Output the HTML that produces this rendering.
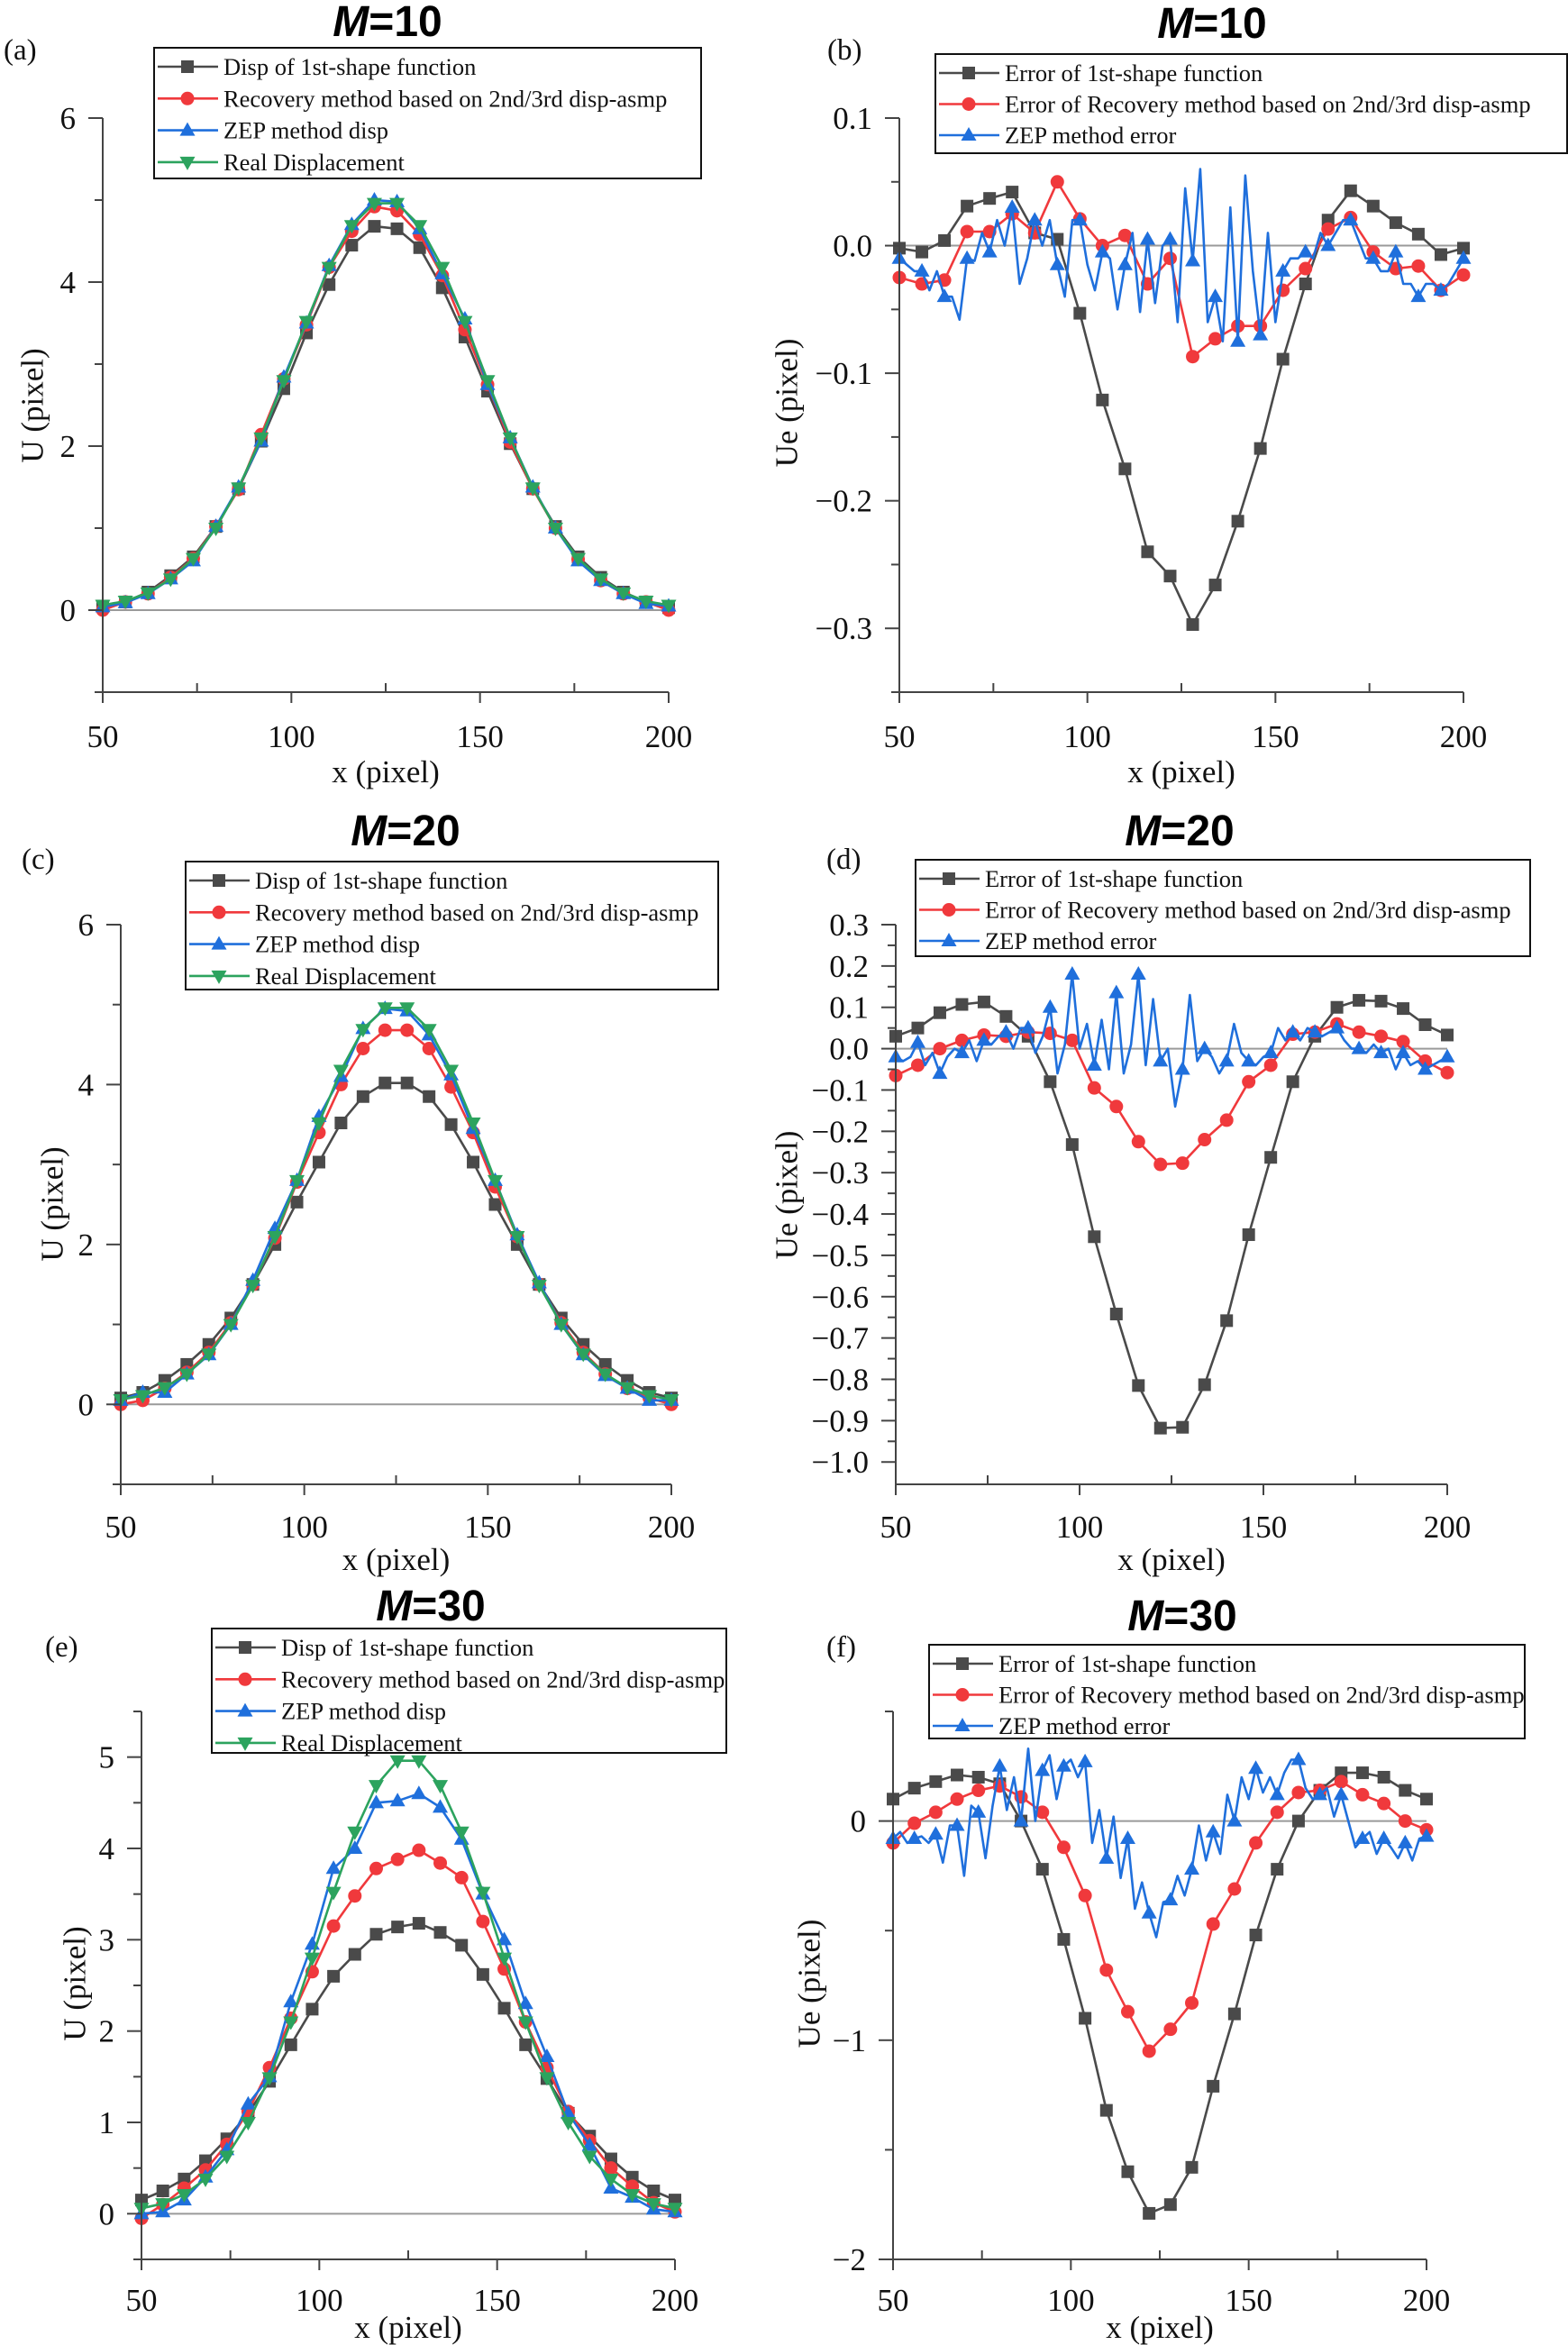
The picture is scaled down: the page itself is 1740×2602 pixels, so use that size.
<!DOCTYPE html>
<html><head><meta charset="utf-8"><style>
html,body{margin:0;padding:0;background:#fff;}
svg{display:block;font-family:"Liberation Serif",serif;}
</style></head>
<body>
<svg id="fig" width="1740" height="2602" viewBox="0 0 1740 2602" xmlns="http://www.w3.org/2000/svg"></svg>
<script>
const xMarkers=[50,56,62,68,74,80,86,92,98,104,110,116,122,128,134,140,146,152,158,164,170,176,182,188,194,200];
const realDisp=[0.06,0.11,0.21,0.38,0.63,1.0,1.49,2.10,2.80,3.52,4.18,4.69,4.96,4.96,4.69,4.18,3.52,2.80,2.10,1.49,1.0,0.63,0.38,0.21,0.11,0.06];
const blackA=[0.05,0.1,0.22,0.42,0.65,1.02,1.48,2.06,2.70,3.38,3.97,4.45,4.68,4.65,4.42,3.93,3.33,2.67,2.03,1.48,1.02,0.65,0.4,0.22,0.1,0.03];
const redA=[0.0,0.1,0.2,0.4,0.63,1.02,1.47,2.14,2.82,3.48,4.18,4.62,4.92,4.87,4.58,4.08,3.42,2.75,2.05,1.48,1.0,0.62,0.36,0.2,0.1,0.0];
const blueA=[0.04,0.09,0.2,0.38,0.6,1.02,1.5,2.06,2.84,3.5,4.2,4.7,5.0,4.98,4.65,4.1,3.55,2.75,2.1,1.5,1.0,0.6,0.36,0.2,0.08,0.05];
const blackC=[0.08,0.15,0.3,0.5,0.75,1.08,1.5,2.0,2.53,3.03,3.52,3.85,4.02,4.02,3.85,3.5,3.03,2.5,2.0,1.5,1.08,0.75,0.5,0.3,0.15,0.08];
const redC=[0.0,0.05,0.2,0.4,0.65,1.02,1.5,2.08,2.78,3.4,4.0,4.45,4.68,4.68,4.45,3.97,3.4,2.72,2.1,1.5,1.02,0.65,0.38,0.2,0.08,0.0];
const blueC=[0.05,0.15,0.15,0.38,0.62,1.0,1.55,2.2,2.8,3.6,4.1,4.7,4.95,4.92,4.62,4.12,3.45,2.8,2.12,1.52,1.0,0.62,0.36,0.2,0.05,0.05];
const blackE=[0.15,0.25,0.38,0.58,0.82,1.1,1.45,1.85,2.24,2.6,2.84,3.06,3.14,3.18,3.08,2.94,2.62,2.25,1.85,1.48,1.1,0.85,0.6,0.4,0.25,0.15];
const redE=[-0.05,0.1,0.28,0.48,0.76,1.12,1.6,2.14,2.65,3.15,3.48,3.78,3.88,3.98,3.84,3.68,3.2,2.68,2.1,1.6,1.12,0.8,0.5,0.3,0.12,0.02];
const blueE=[0,0.02,0.15,0.4,0.7,1.2,1.5,2.32,2.95,3.78,4.0,4.5,4.52,4.6,4.45,4.1,3.5,3.0,2.3,1.72,1.1,0.75,0.28,0.18,0.05,0.02];
const blackB=[-0.002,-0.005,0.004,0.031,0.037,0.042,0.01,0.005,-0.053,-0.121,-0.175,-0.24,-0.259,-0.297,-0.266,-0.216,-0.159,-0.089,-0.03,0.02,0.043,0.031,0.018,0.009,-0.007,-0.002];
const redB=[-0.025,-0.03,-0.027,0.011,0.011,0.025,0.01,0.05,0.021,0.0,0.008,-0.03,-0.01,-0.087,-0.073,-0.063,-0.063,-0.035,-0.018,0.013,0.022,-0.005,-0.018,-0.016,-0.035,-0.023];
const blueB=[-0.01,-0.015,-0.02,-0.02,-0.035,-0.02,-0.04,-0.04,-0.058,-0.01,-0.012,0.01,-0.005,0.02,0.0,0.03,-0.03,-0.01,0.02,0.0,0.02,-0.015,-0.04,0.02,0.02,-0.015,-0.035,-0.005,-0.01,-0.05,-0.015,0.01,-0.052,0.005,-0.045,0.0,0.005,-0.06,0.045,-0.012,0.06,-0.06,-0.04,-0.075,0.03,-0.075,0.055,-0.02,-0.07,0.01,-0.06,-0.02,-0.01,-0.01,-0.005,-0.01,0.01,0.0,0.01,0.02,0.02,0.005,-0.01,-0.01,-0.02,-0.02,-0.005,-0.03,-0.03,-0.04,-0.03,-0.03,-0.035,-0.03,-0.02,-0.01];
const blackD=[0.03,0.05,0.087,0.107,0.113,0.078,0.03,-0.08,-0.232,-0.455,-0.642,-0.815,-0.918,-0.916,-0.813,-0.658,-0.45,-0.263,-0.08,0.03,0.1,0.117,0.115,0.097,0.058,0.033];
const redD=[-0.065,-0.04,0.0,0.02,0.033,0.03,0.04,0.037,0.02,-0.095,-0.14,-0.225,-0.28,-0.277,-0.22,-0.173,-0.08,-0.04,0.035,0.04,0.06,0.04,0.03,0.017,-0.03,-0.058];
const blueD=[-0.02,-0.03,-0.02,0.015,-0.04,-0.01,-0.06,-0.02,0.0,-0.01,0.02,-0.03,0.02,0.01,0.03,0.04,0.0,0.05,0.05,-0.01,0.03,0.1,-0.06,0.01,0.18,0.0,0.06,-0.04,0.07,-0.05,0.135,-0.06,0.01,0.18,-0.04,0.12,-0.03,0.0,-0.14,-0.05,0.13,-0.03,0.0,-0.02,-0.06,-0.03,0.06,-0.01,-0.03,-0.04,-0.02,-0.01,0.05,0.02,0.04,0.02,0.05,0.04,0.03,0.04,0.05,0.02,0.0,0.0,-0.01,0.01,-0.01,0.0,-0.05,-0.01,-0.04,-0.03,-0.05,-0.04,-0.03,-0.02];
const blackF=[0.1,0.15,0.18,0.21,0.2,0.17,0.0,-0.22,-0.54,-0.9,-1.32,-1.6,-1.79,-1.75,-1.58,-1.21,-0.88,-0.52,-0.22,0.0,0.14,0.22,0.22,0.2,0.14,0.1];
const redF=[-0.1,-0.01,0.04,0.1,0.14,0.16,0.11,0.04,-0.12,-0.34,-0.68,-0.87,-1.05,-0.95,-0.83,-0.47,-0.31,-0.1,0.04,0.13,0.14,0.18,0.12,0.08,0.0,-0.04];
const blueF=[-0.08,-0.05,-0.1,-0.08,-0.07,-0.1,-0.06,-0.19,-0.02,-0.02,-0.25,0.07,0.04,-0.17,0.07,0.25,0.05,0.2,0.0,0.33,0.0,0.23,0.3,0.1,0.25,0.28,0.2,0.27,-0.1,0.05,-0.17,0.02,-0.26,-0.08,-0.4,-0.28,-0.42,-0.53,-0.37,-0.36,-0.25,-0.34,-0.22,-0.02,-0.18,-0.05,-0.15,0.12,0.0,0.2,0.1,0.24,0.13,0.2,0.12,0.22,0.28,0.28,0.15,0.1,0.12,0.15,0.02,0.12,0.0,-0.12,-0.08,-0.05,-0.15,-0.08,-0.12,-0.17,-0.1,-0.18,-0.08,-0.07];
const xTickVals=[50,100,150,200];
const xMinorVals=[75,125,175];

const NS="http://www.w3.org/2000/svg";
const svg=document.getElementById('fig');
const COL={k:'#4a4a4a',r:'#f0393c',b:'#1f6fdc',g:'#2ca35e'};
function mk(tag,attrs,parent){const e=document.createElementNS(NS,tag);for(const k in attrs)e.setAttribute(k,attrs[k]);(parent||svg).appendChild(e);return e;}
function denseX(n){const a=[];for(let i=0;i<n;i++)a.push(50+i*2);return a;}
function marker(g,type,cx,cy,color){
  let e;
  if(type==='sq'){e=mk('rect',{x:cx-7,y:cy-7,width:14,height:14,fill:color},g);}
  else if(type==='ci'){e=mk('circle',{cx:cx,cy:cy,r:7.5,fill:color},g);}
  else if(type==='tu'){e=mk('polygon',{points:`${cx},${cy-9} ${cx+8.5},${cy+6} ${cx-8.5},${cy+6}`,fill:color},g);}
  else {e=mk('polygon',{points:`${cx},${cy+9} ${cx+8.5},${cy-6} ${cx-8.5},${cy-6}`,fill:color},g);}
  
  
}
function panel(o){
  const g=mk('g',{});
  
  
  const sx=v=>o.x0+(v-50)/150*(o.x1-o.x0);
  const sy=v=>o.yT+(o.vT-v)/(o.vT-o.vB)*(o.yB-o.yT);
  const z=mk('line',{x1:o.x0,x2:o.x1,y1:sy(0),y2:sy(0),stroke:'#9a9a9a','stroke-width':2},g);
  
  
  o.series.forEach(s=>{
    const xs=s.xs, ys=s.ys;
    const pts=xs.map((x,i)=>sx(x).toFixed(1)+','+sy(ys[i]).toFixed(1)).join(' ');
    const sg=mk('g',{},g);
    
    
    const pl=mk('polyline',{points:pts,fill:'none',stroke:COL[s.c],'stroke-width':2.6,'stroke-linejoin':'round'},sg);
    
    
    xs.forEach((x,i)=>{ if((x-50)%6===0) marker(sg,s.m,sx(x),sy(ys[i]),COL[s.c]); });
  });
  const ax=mk('g',{stroke:'#444','stroke-width':2},g);
  
  
  mk('line',{x1:o.x0,x2:o.x0,y1:o.yT,y2:o.yB},ax);
  mk('line',{x1:o.x0,x2:o.x1,y1:o.yB,y2:o.yB},ax);
  o.yMajor.forEach(v=>{mk('line',{x1:o.x0-16,x2:o.x0,y1:sy(v),y2:sy(v)},ax);});
  o.yMinor.forEach(v=>{mk('line',{x1:o.x0-9,x2:o.x0,y1:sy(v),y2:sy(v)},ax);});
  xTickVals.forEach(v=>{mk('line',{x1:sx(v),x2:sx(v),y1:o.yB,y2:o.yB+12},ax);});
  xMinorVals.forEach(v=>{mk('line',{x1:sx(v),x2:sx(v),y1:o.yB,y2:o.yB-10},ax);});
  o.yMajor.forEach((v,i)=>{
    const t=mk('text',{x:o.x0-30,y:sy(v)+12,'text-anchor':'end','font-size':35,fill:'#111'},g);
    t.textContent=o.yLabels[i];
    
    
  });
  xTickVals.forEach(v=>{
    const t=mk('text',{x:sx(v),y:o.tickY+12,'text-anchor':'middle','font-size':35,fill:'#111'},g);
    t.textContent=String(v);
    
    
  });
  const xl=mk('text',{x:(o.x0+o.x1)/2,y:o.xlY,'text-anchor':'middle','font-size':35,fill:'#111'},g);
  xl.textContent='x (pixel)';
  
  
  const yl=mk('text',{x:0,y:0,'text-anchor':'middle','dominant-baseline':'central','font-size':35,fill:'#111',transform:`translate(${o.ylX},${o.ylY}) rotate(-90)`},g);
  yl.textContent=o.ylabel;
  
  
  const ti=mk('text',{x:o.tX,y:o.tY,'text-anchor':'middle','font-size':48,'font-weight':'bold',fill:'#000','font-family':'Liberation Sans, sans-serif'},g);
  ti.innerHTML='<tspan font-style="italic">M</tspan>='+o.M;
  
  
  const le=mk('text',{x:o.lX,y:o.lY,'font-size':33,fill:'#111'},g);
  le.textContent=o.letter;
  
  
  const L=o.leg;
  const lg=mk('g',{},g);
  
  
  mk('rect',{x:L[0],y:L[1],width:L[2],height:L[3],fill:'#fff',stroke:'#111','stroke-width':2},lg);
  const sp=o.series.length===4?35.3:34.5;
  o.series.forEach((s,i)=>{
    const cy=L[1]+21+i*sp;
    const eg=mk('g',{},lg);
    
    
    mk('line',{x1:L[0]+4,x2:L[0]+71,y1:cy,y2:cy,stroke:COL[s.c],'stroke-width':2.6},eg);
    marker(eg,s.m,L[0]+37,cy,COL[s.c]);
    const t=mk('text',{x:L[0]+77,y:cy+9,'font-size':26.5,fill:'#111'},eg);
    t.textContent=s.label;
  });
}
const lblU=['Disp of 1st-shape function','Recovery method based on 2nd/3rd disp-asmp','ZEP method disp','Real Displacement'];
const lblE=['Error of 1st-shape function','Error of Recovery method based on 2nd/3rd disp-asmp','ZEP method error'];
function uSeries(k,r,b){return [
 {name:'series-1st-shape',c:'k',m:'sq',xs:xMarkers,ys:k,label:lblU[0]},
 {name:'series-recovery',c:'r',m:'ci',xs:xMarkers,ys:r,label:lblU[1]},
 {name:'series-zep',c:'b',m:'tu',xs:xMarkers,ys:b,label:lblU[2]},
 {name:'series-real',c:'g',m:'td',xs:xMarkers,ys:realDisp,label:lblU[3]}];}
function eSeries(k,r,b){return [
 {name:'series-1st-shape-error',c:'k',m:'sq',xs:xMarkers,ys:k,label:lblE[0]},
 {name:'series-recovery-error',c:'r',m:'ci',xs:xMarkers,ys:r,label:lblE[1]},
 {name:'series-zep-error',c:'b',m:'tu',xs:denseX(b.length),ys:b,label:lblE[2]}];}
const fmt1=v=>(v<0?'\u2212':'')+Math.abs(v).toFixed(1);
panel({id:'a',x0:114,x1:742,yT:131,yB:768,vT:6,vB:-1,yMajor:[0,2,4,6],yLabels:['0','2','4','6'],yMinor:[-1,1,3,5],
 tickY:817,xlY:868,ylX:36,ylY:450,ylabel:'U (pixel)',tX:430,tY:40,M:'10',lX:4,lY:66,letter:'(a)',leg:[171,53,607,145],series:uSeries(blackA,redA,blueA)});
panel({id:'b',x0:998,x1:1624,yT:131,yB:768,vT:0.1,vB:-0.35,yMajor:[0.1,0,-0.1,-0.2,-0.3],yLabels:['0.1','0.0','\u22120.1','\u22120.2','\u22120.3'],yMinor:[0.05,-0.05,-0.15,-0.25,-0.35],
 tickY:817,xlY:868,ylX:873,ylY:447,ylabel:'Ue (pixel)',tX:1345,tY:42,M:'10',lX:918,lY:66,letter:'(b)',leg:[1038,60,701,110],series:eSeries(blackB,redB,blueB)});
panel({id:'c',x0:134,x1:745,yT:1026,yB:1647,vT:6,vB:-1,yMajor:[0,2,4,6],yLabels:['0','2','4','6'],yMinor:[-1,1,3,5],
 tickY:1694,xlY:1742,ylX:58,ylY:1336,ylabel:'U (pixel)',tX:450,tY:938,M:'20',lX:24,lY:964,letter:'(c)',leg:[206,956,591,142],series:uSeries(blackC,redC,blueC)});
const dMaj=[0.3,0.2,0.1,0,-0.1,-0.2,-0.3,-0.4,-0.5,-0.6,-0.7,-0.8,-0.9,-1.0];
panel({id:'d',x0:994,x1:1606,yT:1026,yB:1647,vT:0.3,vB:-1.054,yMajor:dMaj,yLabels:dMaj.map(fmt1),yMinor:[0.25,0.15,0.05,-0.05,-0.15,-0.25,-0.35,-0.45,-0.55,-0.65,-0.75,-0.85,-0.95],
 tickY:1694,xlY:1742,ylX:873,ylY:1326,ylabel:'Ue (pixel)',tX:1309,tY:938,M:'20',lX:917,lY:964,letter:'(d)',leg:[1016,954,682,107],series:eSeries(blackD,redD,blueD)});
panel({id:'e',x0:157,x1:749,yT:1899,yB:2507,vT:5.5,vB:-0.5,yMajor:[0,1,2,3,4,5],yLabels:['0','1','2','3','4','5'],yMinor:[-0.5,0.5,1.5,2.5,3.5,4.5,5.5],
 tickY:2552,xlY:2594,ylX:83,ylY:2201,ylabel:'U (pixel)',tX:478,tY:1798,M:'30',lX:50,lY:1838,letter:'(e)',leg:[235,1807,571,138],series:uSeries(blackE,redE,blueE)});
panel({id:'f',x0:991,x1:1583,yT:1899,yB:2507,vT:0.5,vB:-2,yMajor:[0,-1,-2],yLabels:['0','\u22121','\u22122'],yMinor:[0.5,-0.5,-1.5],
 tickY:2552,xlY:2594,ylX:898,ylY:2201,ylabel:'Ue (pixel)',tX:1312,tY:1809,M:'30',lX:917,lY:1838,letter:'(f)',leg:[1031,1825,661,104],series:eSeries(blackF,redF,blueF)});
</script>
</body></html>
